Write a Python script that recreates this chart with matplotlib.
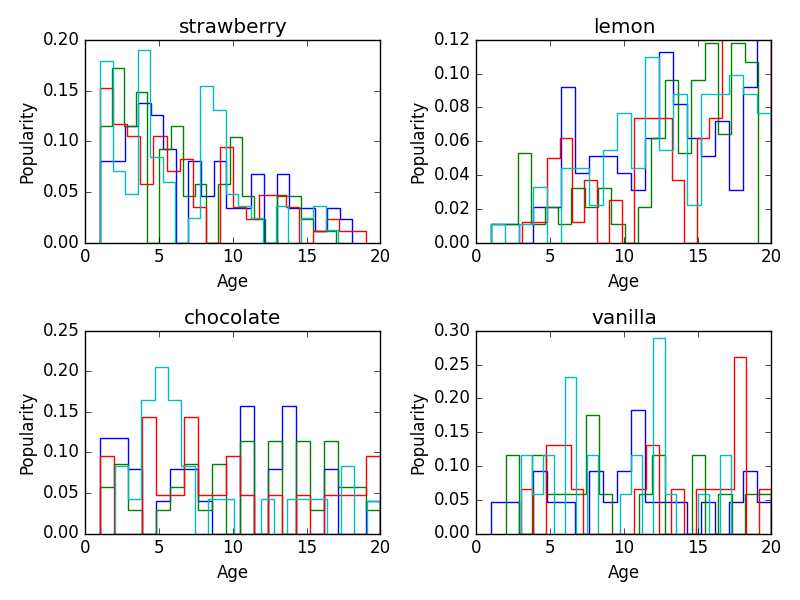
import numpy as np
import matplotlib
matplotlib.use("Agg")
import matplotlib.pyplot as plt

plt.style.use("classic")

flavors = ["strawberry", "lemon", "chocolate", "vanilla"]
colors = ["b", "g", "r", "c"]

# (start, end, heights) per series: blue, green, red, cyan
strawberry = [
    (1.0, 18.1, [0.08, 0.08, 0.115, 0.138, 0.126, 0.092, 0, 0.08, 0.046, 0.08, 0.034, 0.034, 0.068, 0, 0.068, 0.034, 0.034, 0.011, 0.034, 0.023]),
    (1.0, 17.0, [0.115, 0.172, 0.115, 0.149, 0, 0.092, 0.115, 0.046, 0.058, 0, 0.058, 0.104, 0.046, 0.023, 0, 0.046, 0.046, 0.023, 0.011, 0.011]),
    (1.0, 19.0, [0.153, 0.117, 0.105, 0.058, 0.105, 0.071, 0.082, 0.035, 0, 0.094, 0.035, 0.023, 0.047, 0.047, 0.035, 0, 0.011, 0.023, 0.011, 0.011]),
    (1.0, 18.0, [0.179, 0.071, 0.048, 0.19, 0.084, 0.06, 0, 0.024, 0.155, 0.131, 0.048, 0.036, 0.024, 0, 0.036, 0, 0.024, 0.036, 0.012, 0]),
]
lemon = [
    (1.0, 20.0, [0.011, 0.011, 0, 0.021, 0.021, 0.092, 0.041, 0.051, 0.051, 0.041, 0.031, 0.062, 0.113, 0.082, 0.062, 0.051, 0.072, 0.031, 0.092, 0.123]),
    (1.0, 19.1, [0.011, 0.011, 0.053, 0.011, 0.021, 0.011, 0.032, 0.021, 0.032, 0.011, 0, 0.021, 0.062, 0.096, 0.053, 0.096, 0.118, 0.064, 0.118, 0.107]),
    (3.1, 20.0, [0.012, 0.012, 0.05, 0.062, 0.012, 0.037, 0, 0.025, 0, 0.074, 0.074, 0.074, 0.037, 0, 0.062, 0.074, 0.125, 0.13, 0.13, 0.125]),
    (1.0, 20.0, [0.011, 0, 0.011, 0.033, 0, 0.044, 0.044, 0.022, 0.055, 0.077, 0.044, 0.110, 0.055, 0.088, 0.022, 0.088, 0.088, 0.099, 0.088, 0.077]),
]
chocolate = [
    (1.0, 20.0, [0.118, 0.118, 0.079, 0, 0.04, 0.079, 0.079, 0.04, 0, 0, 0.157, 0, 0.079, 0.157, 0, 0, 0.079, 0, 0, 0.04]),
    (1.0, 20.0, [0.057, 0.086, 0.029, 0, 0.029, 0.057, 0.086, 0.029, 0.086, 0, 0.114, 0, 0.114, 0, 0.114, 0.029, 0.114, 0.057, 0.057, 0.029]),
    (1.0, 20.0, [0.096, 0, 0, 0.144, 0.048, 0.048, 0.144, 0.048, 0.048, 0.096, 0.048, 0, 0.048, 0, 0.048, 0, 0.048, 0.048, 0.048, 0.096]),
    (2.0, 20.0, [0.083, 0.042, 0.165, 0.206, 0.165, 0.083, 0, 0.042, 0.042, 0, 0, 0.042, 0, 0.042, 0.042, 0.042, 0, 0.083, 0, 0.040]),
]
vanilla = [
    (1.0, 20.0, [0.046, 0.046, 0, 0.093, 0.046, 0.046, 0, 0.093, 0.046, 0.093, 0.183, 0.046, 0.046, 0.046, 0, 0.046, 0, 0.046, 0.093, 0.046]),
    (2.0, 20.0, [0.117, 0, 0.117, 0.059, 0.059, 0.059, 0.175, 0.059, 0, 0, 0.059, 0.117, 0, 0, 0.117, 0, 0.059, 0, 0.059, 0.059]),
    (3.0, 20.0, [0.066, 0, 0.131, 0.131, 0.066, 0, 0, 0, 0, 0.066, 0.131, 0, 0.066, 0, 0.066, 0.066, 0.066, 0.262, 0, 0.066]),
    (3.0, 18.0, [0.116, 0.058, 0.116, 0, 0.232, 0, 0.116, 0, 0, 0.058, 0.116, 0, 0.29, 0.058, 0, 0, 0.058, 0, 0.116, 0]),
]
data = [strawberry, lemon, chocolate, vanilla]
ymax = [0.2, 0.12, 0.25, 0.3]

fig, axes = plt.subplots(2, 2, figsize=(8, 6), dpi=100)
fig.patch.set_facecolor("white")
for ax, name, series, ym in zip(axes.flat, flavors, data, ymax):
    for (s, e, h), c in zip(series, colors):
        edges = np.linspace(s, e, len(h) + 1)
        ax.stairs(h, edges, color=c, linewidth=1.0)
    ax.set_xlim(0, 20)
    ax.set_ylim(0, ym)
    ax.set_title(name)
    ax.set_xlabel("Age")
    ax.set_ylabel("Popularity")
fig.tight_layout()
fig.savefig("out.png", dpi=100)
